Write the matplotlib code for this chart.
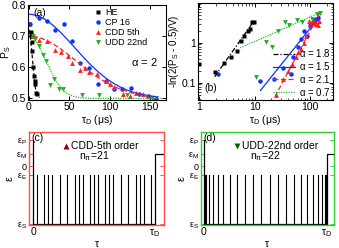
import numpy as np
import matplotlib
matplotlib.use("Agg")
from matplotlib import pyplot as plt
from matplotlib.ticker import FuncFormatter, NullFormatter

plt.rcParams['font.family'] = ['Liberation Sans', 'DejaVu Sans']
plt.rcParams['mathtext.default'] = 'regular'
plt.rcParams['font.size'] = 7.5
plt.rcParams['axes.linewidth'] = 0.8

## (a) P_S vs tau_D (us)
he_t = [0.4, 2.1, 3.3, 3.7, 4.1, 5.3, 6.6, 7.4, 7.8, 9.5, 10.4]
he_p = [0.739, 0.712, 0.703, 0.680, 0.653, 0.601, 0.572, 0.556, 0.546, 0.518, 0.515]
cp_t = [1, 13, 23, 33, 44, 54, 64, 75, 86, 95, 105, 116, 126, 136, 147, 157]
cp_p = [0.740, 0.757, 0.750, 0.721, 0.740, 0.683, 0.614, 0.597, 0.546, 0.557,
        0.529, 0.529, 0.532, 0.514, 0.508, 0.498]
cdd_t = [4.5, 12.8, 23, 32, 40, 49, 54, 63, 69, 75, 84, 95, 100, 105, 117,
         125, 133, 141, 149, 154]
cdd_p = [0.699, 0.688, 0.683, 0.656, 0.649, 0.636, 0.613, 0.590, 0.596, 0.585,
         0.577, 0.556, 0.545, 0.538, 0.513, 0.508, 0.516, 0.513, 0.508, 0.502]
udd_t = [5, 8, 13, 17, 21, 31, 26, 37, 42, 66, 87, 122, 152]
udd_p = [0.700, 0.690, 0.667, 0.639, 0.620, 0.561, 0.542, 0.531, 0.531, 0.511,
         0.510, 0.511, 0.500]

# gaussian fits (alpha = 2): amplitude, decay time, range
fit_he = (0.22, 6.0, 0, 13)
fit_cp = (0.27, 80.0, 0, 160)
fit_cdd = (0.20, 82.0, 5, 152)
fit_udd = (0.20, 30.0, 5, 166)

## (b) -ln(2(P_S-0.5)/V) log-log
he_bt = [1.0, 1.95, 2.85, 3.75, 4.75, 5.6, 6.5, 7.5, 8.3, 8.9, 9.8]
he_bv = [0.29, 0.18, 0.31, 0.44, 0.62, 1.08, 1.5, 1.95, 2.2, 3.2, 3.3]
cp_bt = [2.2, 12.5, 22, 32, 45, 50, 60, 70, 79, 90, 100, 112, 123, 131, 141]
cp_bv = [0.16, 0.11, 0.124, 0.23, 0.165, 0.44, 0.8, 1.2, 2.0, 1.5, 2.8, 3.2,
         3.6, 3.9, 4.1]
cdd_bt = [24, 33, 40, 47, 55, 62, 70, 78, 86, 95, 100, 107, 114, 122, 130, 138, 146]
cdd_bv = [0.05, 0.12, 0.2, 0.3, 0.45, 0.6, 0.7, 1.0, 1.45, 3.4, 2.7, 3.3, 3.5,
          2.9, 3.1, 2.8, 3.4]
udd_bt = [10.5, 16, 21, 27, 36, 42, 58, 72, 108, 132, 155]
udd_bv = [0.14, 1.05, 0.78, 2.0, 3.2, 2.8, 3.6, 3.2, 4.0, 5.3, 5.6]

# power-law fit lines (end points)
line_he = ([1.9, 9.5], [0.14, 3.3])
line_cp = ([12.8, 150], [0.064, 4.5])
line_cdd = ([23.4, 150], [0.045, 5.5])
line_udd = ([5.5, 150], [0.74, 5.6])
alpha_labels = [r'$\alpha$ = 1.8', r'$\alpha$ = 1.5', r'$\alpha$ = 2.1', r'$\alpha$ = 0.7']

## (c), (d) pulse sequences (fraction of tau_D)
cdd_pulses = np.array([1, 3, 4, 5, 7, 9, 11, 12, 13, 15, 16, 17, 19, 20, 21,
                       23, 25, 27, 28, 29, 31]) / 32.0
udd_pulses = [0.0047, 0.0185, 0.0414, 0.0728, 0.1121, 0.1587, 0.2117, 0.2701,
              0.3327, 0.3983, 0.4658, 0.5342, 0.6017, 0.6673, 0.7299, 0.7883,
              0.8413, 0.8879, 0.9272, 0.9586, 0.9815, 0.9953]
levels = {'S': 0.0, 'E': 0.53, '0': 0.625, 'M': 0.763, 'P': 0.914}

fig = plt.figure(figsize=(3.39, 2.48), dpi=100)

def style(ax, color='k'):
    ax.tick_params(direction='in', top=True, right=True, length=3, width=0.7,
                   labelsize=7.5, pad=1.5, color=color)
    ax.tick_params(which='minor', direction='in', top=True, right=True,
                   length=1.8, width=0.5, color=color)
    for s in ax.spines.values():
        s.set_color(color)

## ----- (a)
ax = fig.add_axes([0.0826, 0.597, 0.4074, 0.383])
ax.plot(he_t, he_p, 's', color='k', ms=3, mec='none', label='HE')
ax.plot(cp_t, cp_p, 'o', color='#1030ff', ms=3.2, mec='none', label='CP 16')
ax.plot(cdd_t, cdd_p, '^', color='#ff2020', ms=3.5, mec='none', label='CDD 5th')
ax.plot(udd_t, udd_p, 'v', color='#20b020', ms=3.5, mec='none', label='UDD 22nd')
for (A, T, t0, t1), c, ls in [(fit_he, 'k', (0, (3, 2))),
                              (fit_cp, '#1030ff', '-'),
                              (fit_cdd, '#ff2020', (0, (4, 2))),
                              (fit_udd, '#20c020', (0, (1, 1)))]:
    tt = np.linspace(t0, t1, 200)
    ax.plot(tt, 0.5 + A * np.exp(-(tt / T) ** 2), color=c, ls=ls, lw=0.9)
ax.set_xlim(-1, 170)
ax.set_ylim(0.495, 0.8)
ax.set_xticks([0, 50, 100, 150])
ax.set_yticks([0.5, 0.6, 0.7, 0.8])
ax.set_xlabel(r'$\tau_D$ ($\mu$s)', labelpad=1)
ax.set_ylabel(r'$P_S$', fontsize=7.5)
ax.yaxis.set_label_coords(-0.112, 0.5)
style(ax)
ax.legend(loc='upper left', bbox_to_anchor=(0.46, 1.0), frameon=False,
          fontsize=6.5, handlelength=0.8, handletextpad=0.4, labelspacing=0.12,
          borderaxespad=0.1, borderpad=0.2)
ax.text(0.04, 0.97, '(a)', transform=ax.transAxes, va='top', ha='left')
ax.text(0.84, 0.4, r'$\alpha$ = 2', transform=ax.transAxes, va='center',
        ha='center', fontsize=8)

## ----- (b)
bx = fig.add_axes([0.584, 0.597, 0.398, 0.391])
bx.set_xscale('log')
bx.set_yscale('log')
bx.plot(he_bt, he_bv, 's', color='k', ms=3, mec='none')
bx.plot(cp_bt, cp_bv, 'o', color='#1030ff', ms=3.2, mec='none')
bx.plot(cdd_bt, cdd_bv, '^', color='#ff2020', ms=3.5, mec='none')
bx.plot(udd_bt, udd_bv, 'v', color='#20b020', ms=3.5, mec='none')
hl = []
for (xs, ys), c, ls in [(line_he, 'k', (0, (4, 1.5, 1, 1.5))),
                        (line_cp, '#1030ff', '-'),
                        (line_cdd, '#ff2020', (0, (4, 2))),
                        (line_udd, '#20c020', (0, (1, 1)))]:
    l, = bx.plot(xs, ys, color=c, ls=ls, lw=0.9)
    hl.append(l)
bx.legend(hl, alpha_labels, loc='lower right', frameon=False, fontsize=7,
          handlelength=2.2, handletextpad=0.4, labelspacing=0.08,
          borderaxespad=0.1, borderpad=0.15)
bx.set_xlim(0.95, 260)
bx.set_ylim(0.037, 9.8)
fmt = FuncFormatter(lambda v, p: '%g' % v)
bx.xaxis.set_major_formatter(fmt)
bx.yaxis.set_major_formatter(fmt)
bx.yaxis.set_minor_formatter(NullFormatter())
bx.set_xlabel(r'$\tau_D$ ($\mu$s)', labelpad=1)
bx.set_ylabel(r'-ln(2($P_S$ - 0.5)/V)', labelpad=0, fontsize=7)
style(bx)
bx.text(0.05, 0.12, '(b)', transform=bx.transAxes, va='center', ha='left')

## ----- (c), (d)
def seq_panel(rect, xlim, pulses, color, marker, mcolor, title, npi, tag):
    cx = fig.add_axes(rect)
    cx.plot([0, 0], [levels['S'], levels['P']], color='k', lw=0.9)
    cx.plot([0, 1], [levels['S'], levels['S']], color='k', lw=0.9)
    for p in pulses:
        cx.plot([p, p], [levels['S'], levels['E']], color='k', lw=0.8)
    cx.plot([1, 1, 1.1], [levels['S'], levels['M'], levels['M']], color='k', lw=0.9)
    cx.set_xlim(*xlim)
    cx.set_ylim(-0.01, 1.0)
    cx.set_xticks([0, 1])
    cx.set_xticklabels(['0', r'$\tau_D$'])
    cx.set_yticks([levels[k] for k in ['S', 'E', '0', 'M', 'P']])
    cx.set_yticklabels([r'$\varepsilon_S$', r'$\varepsilon_E$', '0',
                        r'$\varepsilon_M$', r'$\varepsilon_P$'])
    cx.set_xlabel(r'$\tau$', labelpad=0)
    cx.set_ylabel(r'$\varepsilon$', labelpad=1)
    style(cx, color)
    cx.tick_params(axis='y', labelsize=6.5)
    cx.tick_params(top=False)
    for s in cx.spines.values():
        s.set_linewidth(1.0)
    cx.plot([0.27], [0.85], marker, color=mcolor, ms=4, mec='none')
    cx.text(0.31, 0.85, title, va='center', ha='left', fontsize=7.5)
    cx.text(0.5, 0.735, r'$n_\pi$=%d' % npi, va='center', ha='center', fontsize=7.5)
    cx.text(0.02, 0.99, tag, transform=cx.transAxes, va='top', ha='left')
    return cx

seq_panel([0.0855, 0.093, 0.3985, 0.375], (-0.033, 1.074), cdd_pulses,
          '#ff5050', '^', '#8b0000', 'CDD-5th order', 21, '(c)')
seq_panel([0.593, 0.093, 0.392, 0.375], (-0.024, 1.057), udd_pulses,
          '#30d030', 'v', '#006400', 'UDD-22nd order', 22, '(d)')

plt.savefig('out.png', dpi=100)
